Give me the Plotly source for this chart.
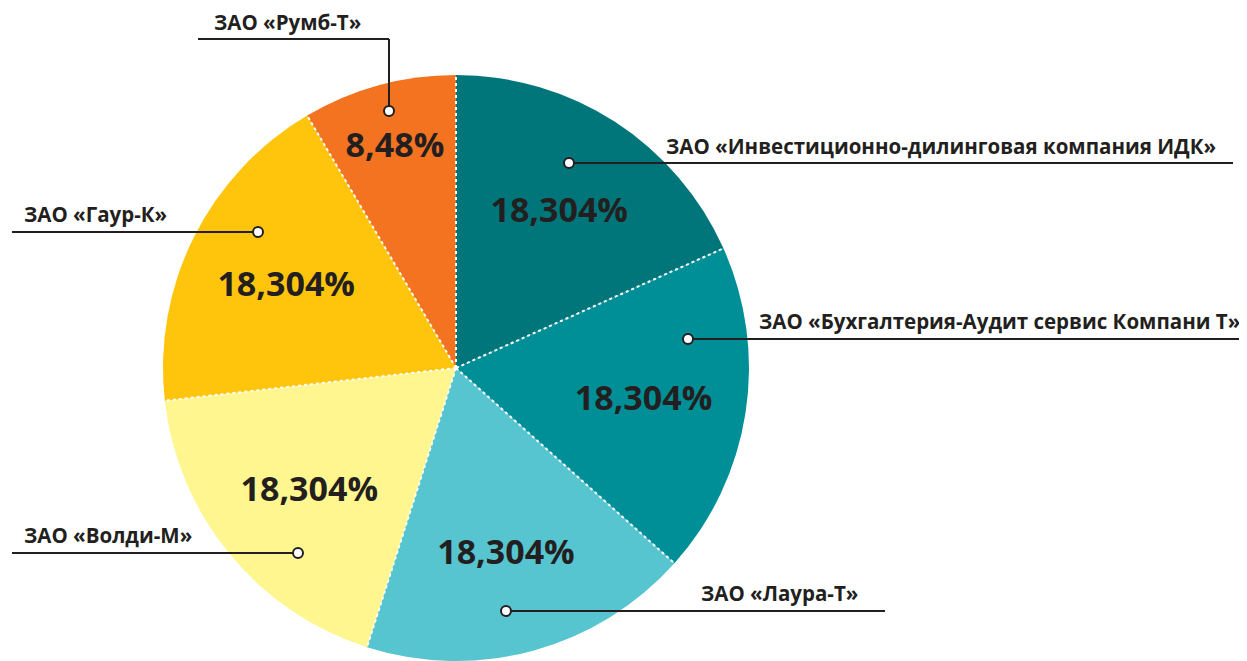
import math
import plotly.graph_objects as go

# ---- data ----
companies = [
    "ЗАО «Инвестиционно-дилинговая компания ИДК»",
    "ЗАО «Бухгалтерия-Аудит сервис Компани Т»",
    "ЗАО «Лаура-Т»",
    "ЗАО «Волди-М»",
    "ЗАО «Гаур-К»",
    "ЗАО «Румб-Т»",
]
shares = [18.304, 18.304, 18.304, 18.304, 18.304, 8.48]
colors = ["#00767A", "#008F97", "#57C5D0", "#FFF68F", "#FFC40C", "#F37321"]

# ---- layout geometry (page pixels; page body has an 8px margin) ----
OFF = 8
FW, FH = 1247 - OFF, 661 - OFF
CX, CY, R = 456, 368, 293

def px(x):
    return (x - OFF) / FW

def py(y):
    return 1 - (y - OFF) / FH

# callout geometry: dot, path points, text anchor
callouts = [
    dict(dot=(569, 163), path=[(569, 163), (1233, 163)], text=(1218, 146), xanchor="right"),
    dict(dot=(688, 339), path=[(688, 339), (1247, 339)], text=(1242, 321), xanchor="right"),
    dict(dot=(506, 611), path=[(506, 611), (885, 611)], text=(860, 593), xanchor="right"),
    dict(dot=(298, 553), path=[(298, 553), (12, 553)], text=(22, 535), xanchor="left"),
    dict(dot=(258, 232), path=[(258, 232), (12, 232)], text=(22, 214), xanchor="left"),
    dict(dot=(389, 111), path=[(389, 111), (389, 39), (198, 39)], text=(212, 22), xanchor="left"),
]

labels_txt = [("%g" % v).replace(".", ",") + "%" for v in shares]

fig = go.Figure(go.Pie(
    labels=companies,
    values=shares,
    text=labels_txt,
    textinfo="text",
    textposition="inside",
    insidetextorientation="horizontal",
    textfont=dict(family="Open Sans", size=34, color="#231F20", weight="bold"),
    marker=dict(colors=colors, line=dict(width=0)),
    sort=False,
    direction="clockwise",
    rotation=0,
    hoverinfo="label+percent",
    domain=dict(x=[px(CX - R), px(CX + R)], y=[py(CY + R), py(CY - R)]),
    showlegend=False,
))

shapes = []
# dotted white separators derived from data
total = sum(shares)
cum = 0
for v in shares:
    ang = math.pi / 2 - 2 * math.pi * cum / total
    ex = CX + R * math.cos(ang)
    ey = CY - R * math.sin(ang)
    shapes.append(dict(type="line", xref="paper", yref="paper",
                       x0=px(CX), y0=py(CY), x1=px(ex), y1=py(ey),
                       line=dict(color="white", width=2, dash="dot")))
    cum += v

annotations = []
for name, c in zip(companies, callouts):
    pts = c["path"]
    for (x0, y0), (x1, y1) in zip(pts[:-1], pts[1:]):
        shapes.append(dict(type="line", xref="paper", yref="paper",
                           x0=px(x0), y0=py(y0), x1=px(x1), y1=py(y1),
                           line=dict(color="#231F20", width=2)))
    dx, dy = c["dot"]
    r = 5
    shapes.append(dict(type="circle", xref="paper", yref="paper",
                       x0=px(dx - r), y0=py(dy + r), x1=px(dx + r), y1=py(dy - r),
                       fillcolor="white", line=dict(color="#231F20", width=2)))
    tx, ty = c["text"]
    annotations.append(dict(text="<b>%s</b>" % name, xref="paper", yref="paper",
                            x=px(tx), y=py(ty), xanchor=c["xanchor"], yanchor="middle",
                            showarrow=False,
                            font=dict(family="Open Sans", size=20.5, color="#231F20")))

fig.update_layout(
    width=FW, height=FH,
    margin=dict(l=0, r=0, t=0, b=0),
    paper_bgcolor="white",
    plot_bgcolor="white",
    shapes=shapes,
    annotations=annotations,
)

fig.write_html("out.html")
